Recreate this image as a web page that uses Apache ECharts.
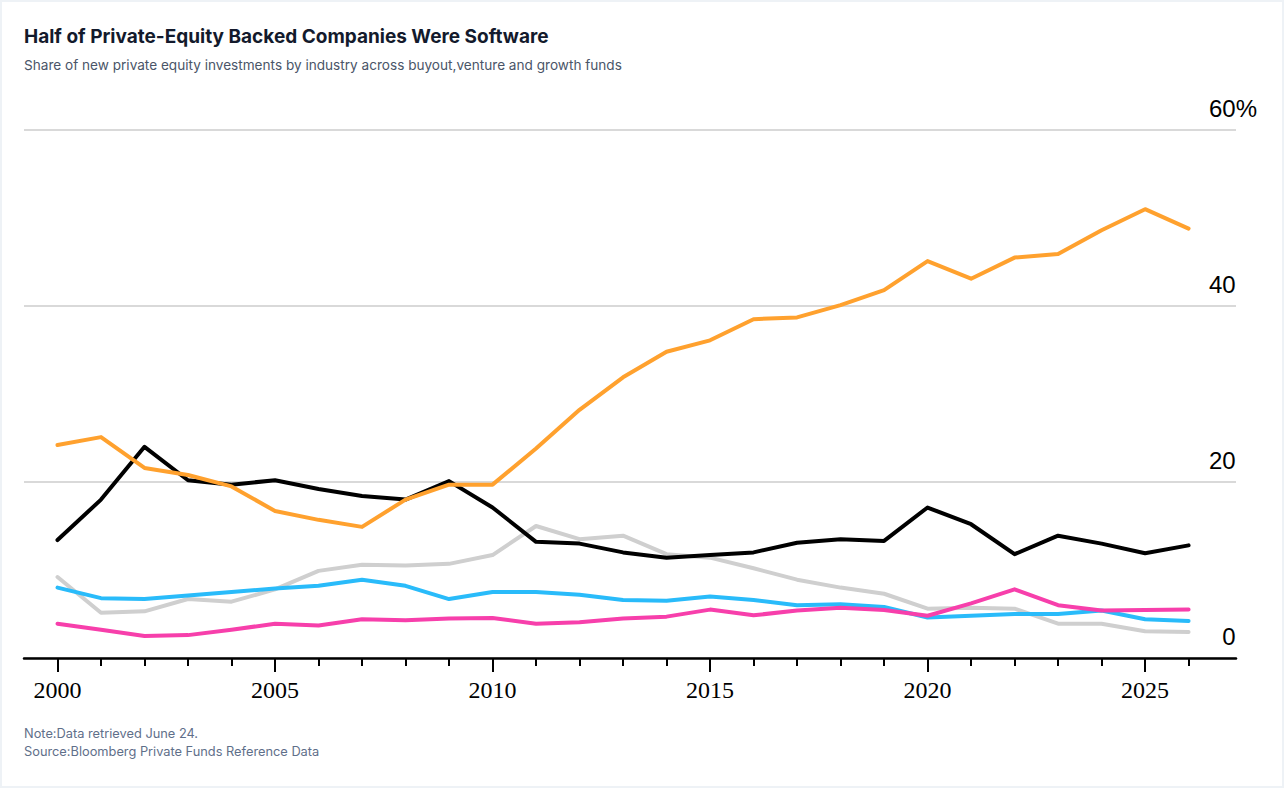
<!DOCTYPE html>
<html><head><meta charset="utf-8">
<script src="https://cdn.jsdelivr.net/npm/echarts@6/dist/echarts.min.js"></script>
<style>
html,body{margin:0;padding:0;background:#fff;}
#c{position:absolute;left:0;top:0;width:1284px;height:788px;}
#frame{position:absolute;left:0;top:0;width:1284px;height:788px;box-sizing:border-box;border:2px solid #eef2f6;pointer-events:none;}
</style></head><body>
<div id="c"></div><div id="frame"></div>
<script>
const years = [2000,2001,2002,2003,2004,2005,2006,2007,2008,2009,2010,2011,2012,2013,2014,2015,2016,2017,2018,2019,2020,2021,2022,2023,2024,2025,2026];
const labelYears = [2000,2005,2010,2015,2020,2025];
const yTicks = [0,20,40,60];
const software = [24.2,25.1,21.6,20.8,19.5,16.7,15.7,14.9,18.0,19.7,19.7,23.8,28.2,31.9,34.8,36.1,38.5,38.7,40.1,41.8,45.1,43.1,45.5,45.9,48.6,51.0,48.8];
const blackSeries = [13.4,18.0,24.0,20.2,19.7,20.2,19.2,18.4,18.0,20.1,17.1,13.2,13.0,12.0,11.4,11.7,12.0,13.1,13.5,13.3,17.1,15.2,11.8,13.9,13.0,11.9,12.8];
const graySeries = [9.2,5.15,5.3,6.7,6.4,7.8,9.9,10.6,10.5,10.7,11.7,15.0,13.5,13.9,11.8,11.4,10.2,8.9,8.0,7.3,5.6,5.7,5.6,3.9,3.9,3.05,2.95];
const blueSeries = [8.0,6.8,6.7,7.1,7.5,7.9,8.2,8.9,8.2,6.7,7.5,7.5,7.2,6.6,6.5,7.0,6.6,6.0,6.1,5.8,4.6,4.8,5.0,5.0,5.4,4.4,4.2];
const pinkSeries = [3.9,3.2,2.5,2.6,3.2,3.9,3.7,4.4,4.3,4.5,4.55,3.9,4.05,4.5,4.7,5.5,4.85,5.4,5.7,5.45,4.8,6.2,7.8,6.0,5.4,5.45,5.5];

const chart = echarts.init(document.getElementById('c'), null, {renderer:'svg'});
const pair = arr => years.map((y,i)=>[y,arr[i]]);
const mk = (name, arr, color, z) => ({
  name, type:'line', data: pair(arr), showSymbol:false, symbol:'none', z,
  lineStyle:{width:4, color, join:'round', cap:'round'}, itemStyle:{color},
  animation:false
});
const XMIN = 1999.23, XMAX = 2027.09;
chart.setOption({
  backgroundColor:'#ffffff',
  animation:false,
  title:[
    {text:'Half of Private-Equity Backed Companies Were Software', left:24, top:27, padding:0,
     textStyle:{fontFamily:'Inter', fontSize:19, fontWeight:700, color:'#131a2c'}},
    {text:'Share of new private equity investments by industry across buyout,venture and growth funds', left:24, top:58, padding:0,
     textStyle:{fontFamily:'Inter', fontSize:13.6, fontWeight:400, color:'#4a5568'}},
    {text:'Note:Data retrieved June 24.\nSource:Bloomberg Private Funds Reference Data', left:24, top:724, padding:0,
     textStyle:{fontFamily:'Inter', fontSize:12.8, fontWeight:400, color:'#5f6f8a', lineHeight:18}}
  ],
  grid:{left:24, right:48, top:130, bottom:130, containLabel:false},
  xAxis:[
    {type:'value', min:XMIN, max:XMAX,
     axisLine:{show:true, onZero:false, lineStyle:{color:'#000', width:2.5}},
     axisTick:{show:true, customValues:years, length:8, lineStyle:{color:'#000', width:2}},
     axisLabel:{show:false}, splitLine:{show:false}},
    {type:'value', min:XMIN, max:XMAX, position:'bottom',
     axisLine:{show:false},
     axisTick:{show:true, customValues:labelYears, length:14, lineStyle:{color:'#000', width:2}},
     axisLabel:{show:true, customValues:labelYears, formatter:v=>String(v), fontFamily:'Liberation Serif', fontSize:24, color:'#000', margin:20},
     splitLine:{show:false}}
  ],
  yAxis:{type:'value', min:0, max:60, interval:20, position:'right',
    axisLine:{show:false}, axisTick:{show:false},
    splitLine:{show:true, lineStyle:{color:'#cccccc', width:1.5}},
    axisLabel:{show:true, align:'right', verticalAlign:'bottom', margin:21, padding:[0,0,10,0],
      formatter:v=> v===60 ? '{n|60}{p|%}' : '{n|'+v+'}{h|%}',
      rich:{
        n:{fontFamily:'Liberation Sans', fontSize:24, color:'#000'},
        p:{fontFamily:'Liberation Sans', fontSize:24, color:'#000'},
        h:{fontFamily:'Liberation Sans', fontSize:24, color:'rgba(0,0,0,0)'}
      }}
  },
  series:[
    mk('Gray', graySeries, '#cfcfcf', 2),
    mk('Blue', blueSeries, '#29bbfa', 3),
    mk('Pink', pinkSeries, '#f73fab', 4),
    mk('Black', blackSeries, '#000000', 5),
    mk('Software', software, '#ffa12e', 6)
  ]
});
</script>
</body></html>
